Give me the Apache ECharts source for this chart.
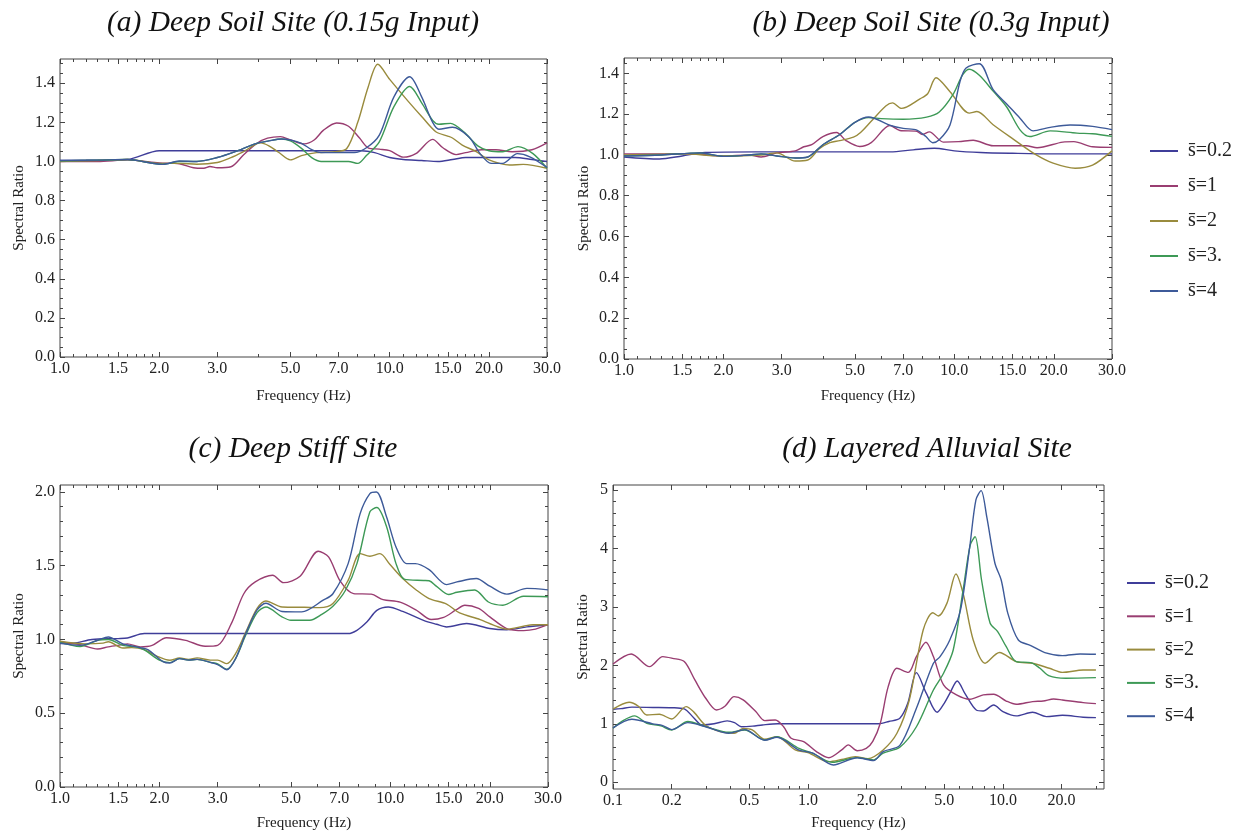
<!DOCTYPE html>
<html>
<head>
<meta charset="utf-8">
<script src="https://cdn.jsdelivr.net/npm/echarts@6/dist/echarts.min.js"></script>
<style>
html,body{margin:0;padding:0;background:#fff;}
#chart{width:1243px;height:833px;}
</style>
</head>
<body>
<div id="chart"></div>
<script>
// ---------- names / labels ----------
const seriesNames = ['s\u0304=0.2', 's\u0304=1', 's\u0304=2', 's\u0304=3.', 's\u0304=4'];
const panelTitles = ['(a) Deep Soil Site (0.15g Input)', '(b) Deep Soil Site (0.3g Input)', '(c) Deep Stiff Site', '(d) Layered Alluvial Site'];
const xTicksABC = [1, 1.5, 2, 3, 5, 7, 10, 15, 20, 30];
const xMinorABC = [1.1, 1.2, 1.3, 1.4, 1.6, 1.7, 1.8, 1.9, 4, 6, 8, 9, 11, 12, 13, 14, 16, 17, 18, 19];
const xTicksD = [0.1, 0.2, 0.5, 1, 2, 5, 10, 20];
const xMinorD = [0.3, 0.4, 0.6, 0.7, 0.8, 0.9, 3, 4, 6, 7, 8, 9, 30];
const yTicksAB = [0, 0.2, 0.4, 0.6, 0.8, 1.0, 1.2, 1.4];
const yTicksC = [0, 0.5, 1.0, 1.5, 2.0];
const yTicksD = [0, 1, 2, 3, 4, 5];

// ---------- data: [frequency (Hz), spectral ratio] ----------
// (a) Deep Soil Site (0.15g)
const A_s02 = [[1,1.005],[1.2,1.006],[1.4,1.008],[1.6,1.01],[2.0,1.055],[2.5,1.055],[3,1.055],[4,1.055],[5,1.055],[6,1.055],[7,1.055],[8.2,1.055],[9,1.045],[10,1.02],[11,1.01],[12.5,1.005],[14,1.0],[15.5,1.01],[17,1.02],[20,1.02],[24,1.02],[27,1.01],[30,1.0]];
const A_s1 = [[1,1.0],[1.3,1.0],[1.6,1.008],[2.0,0.993],[2.3,0.988],[2.54,0.968],[2.73,0.965],[2.85,0.974],[3.0,0.968],[3.3,0.973],[3.6,1.033],[3.96,1.093],[4.26,1.119],[4.66,1.127],[5.0,1.11],[5.5,1.09],[5.9,1.11],[6.3,1.16],[6.9,1.197],[7.5,1.18],[8.1,1.12],[8.6,1.07],[9.3,1.063],[10,1.055],[11,1.022],[12,1.04],[13.5,1.113],[14.5,1.07],[15.9,1.035],[17,1.045],[19,1.06],[21,1.06],[23.5,1.05],[27,1.06],[30,1.095]];
const A_s2 = [[1,1.0],[1.3,1.005],[1.6,1.01],[2.0,0.99],[2.3,0.99],[2.6,0.986],[3.0,0.995],[3.3,1.02],[3.6,1.05],[4.06,1.095],[4.3,1.08],[4.6,1.047],[5.0,1.008],[5.4,1.03],[6.0,1.045],[6.8,1.05],[7.4,1.065],[8.0,1.2],[8.6,1.38],[9.2,1.497],[10,1.42],[11.4,1.306],[12.5,1.23],[13.8,1.152],[15.0,1.13],[15.5,1.12],[16.6,1.084],[18.3,1.05],[20,1.008],[23.1,0.982],[25.4,0.985],[30,0.965]];
const A_s3 = [[1,1.003],[1.3,1.006],[1.6,1.01],[2.05,0.985],[2.3,1.0],[2.6,1.0],[3.0,1.02],[3.4,1.05],[3.9,1.09],[4.3,1.105],[4.7,1.115],[5.0,1.105],[5.4,1.067],[5.8,1.02],[6.2,1.0],[7.0,1.0],[7.5,1.0],[8.0,0.99],[8.5,1.03],[9.3,1.10],[10.3,1.28],[11.5,1.383],[12.5,1.3],[13.5,1.21],[14.1,1.19],[15.3,1.195],[16.8,1.15],[18.5,1.08],[20,1.055],[22,1.05],[24.5,1.076],[27.2,1.04],[30,0.965]];
const A_s4 = [[1,1.005],[1.3,1.007],[1.6,1.01],[2.05,0.985],[2.3,1.002],[2.6,1.0],[3.0,1.02],[3.4,1.05],[3.9,1.09],[4.3,1.105],[4.7,1.115],[5.0,1.11],[5.4,1.093],[5.8,1.06],[6.2,1.045],[7.0,1.045],[7.8,1.045],[8.5,1.07],[9.3,1.135],[10.3,1.33],[11.5,1.433],[12.5,1.33],[13.5,1.2],[14.1,1.165],[15.5,1.175],[17.4,1.125],[18.8,1.04],[20.3,0.99],[22,0.99],[24.4,1.04],[26.6,1.024],[30,0.97]];
// (b) Deep Soil Site (0.3g)
const B_s02 = [[1,0.99],[1.28,0.98],[1.5,0.995],[1.76,1.012],[2.5,1.015],[3.5,1.015],[4.5,1.015],[5.5,1.015],[6.4,1.015],[7.5,1.025],[8.7,1.033],[10,1.02],[12,1.012],[15,1.008],[20,1.005],[25,1.005],[30,1.005]];
const B_s1 = [[1,1.005],[1.3,1.005],[1.6,1.005],[2.0,0.995],[2.4,1.0],[2.6,0.99],[2.9,1.01],[3.3,1.02],[3.5,1.04],[3.7,1.05],[4.0,1.09],[4.4,1.11],[4.7,1.07],[5.17,1.041],[5.6,1.06],[6.38,1.144],[6.84,1.12],[7.7,1.116],[8.0,1.10],[8.4,1.113],[9.26,1.063],[10.3,1.065],[11.4,1.072],[13.1,1.045],[15,1.045],[16.5,1.045],[17.8,1.035],[21.3,1.063],[23,1.065],[26.2,1.04],[30,1.037]];
const B_s2 = [[1,1.0],[1.5,1.005],[2.0,0.995],[2.6,1.0],[2.9,1.01],[3.3,0.97],[3.6,0.975],[3.9,1.03],[4.2,1.06],[4.5,1.07],[4.95,1.087],[5.2,1.11],[5.6,1.165],[6.2,1.24],[6.5,1.255],[6.92,1.228],[7.87,1.275],[8.3,1.3],[8.8,1.378],[9.7,1.31],[11.1,1.205],[11.7,1.213],[13.1,1.148],[15,1.08],[17.7,1.0],[19.9,0.96],[23.2,0.935],[26.2,0.95],[30,1.02]];
const B_s3 = [[1,0.995],[1.3,1.0],[1.7,1.01],[2.0,0.993],[2.4,1.0],[2.6,1.005],[2.9,0.995],[3.3,0.985],[3.6,0.99],[4.0,1.05],[4.5,1.1],[5.0,1.16],[5.5,1.183],[6.0,1.178],[7.0,1.175],[8.24,1.185],[9.0,1.21],[9.9,1.295],[10.6,1.393],[11.1,1.42],[11.9,1.39],[13.1,1.313],[14.4,1.235],[15.8,1.123],[16.9,1.09],[19.5,1.118],[23.5,1.107],[26.2,1.104],[30,1.091]];
const B_s4 = [[1,0.995],[1.3,1.0],[1.7,1.01],[2.0,0.993],[2.4,1.0],[2.6,1.005],[2.9,0.995],[3.3,0.985],[3.6,0.99],[4.0,1.05],[4.5,1.1],[5.0,1.16],[5.5,1.186],[6.4,1.145],[7.0,1.13],[7.7,1.122],[8.2,1.09],[8.6,1.06],[9.0,1.074],[9.7,1.147],[10.4,1.36],[10.85,1.426],[11.9,1.447],[13.1,1.32],[14.4,1.25],[15.8,1.18],[17.3,1.118],[19.5,1.135],[22.4,1.147],[26.2,1.14],[30,1.124]];
// (c) Deep Stiff Site
const C_s02 = [[1,0.972],[1.1,0.975],[1.25,1.0],[1.5,1.006],[1.6,1.01],[1.8,1.04],[2.5,1.04],[3.5,1.04],[4.5,1.04],[5.5,1.04],[6.5,1.04],[7.45,1.04],[7.92,1.062],[8.5,1.12],[9.1,1.197],[9.85,1.22],[10.9,1.19],[12.6,1.13],[13.8,1.103],[14.8,1.085],[17,1.108],[20,1.074],[22.5,1.066],[25.9,1.085],[30,1.1]];
const C_s1 = [[1,0.983],[1.15,0.965],[1.3,0.935],[1.4,0.95],[1.55,0.965],[1.6,0.97],[1.75,0.95],[1.9,0.96],[2.1,1.012],[2.4,0.994],[2.75,0.954],[3.0,0.96],[3.3,1.107],[3.6,1.31],[3.9,1.39],[4.4,1.435],[4.75,1.385],[5.33,1.428],[6.05,1.598],[6.5,1.56],[7.05,1.395],[7.74,1.311],[8.75,1.307],[9.5,1.27],[10.7,1.253],[12.0,1.198],[13.3,1.135],[14.5,1.15],[15.8,1.2],[16.8,1.232],[18.5,1.21],[20,1.153],[22.5,1.074],[25.3,1.06],[27.5,1.07],[30,1.1]];
const C_s2 = [[1,0.988],[1.2,0.97],[1.35,0.975],[1.4,0.985],[1.55,0.942],[1.65,0.945],[1.8,0.931],[1.95,0.89],[2.15,0.859],[2.3,0.875],[2.45,0.865],[2.6,0.875],[2.85,0.86],[3.0,0.86],[3.2,0.836],[3.4,0.904],[3.65,1.05],[3.95,1.21],[4.2,1.261],[4.7,1.22],[5.5,1.218],[6.1,1.216],[6.7,1.244],[7.45,1.401],[8.1,1.582],[8.67,1.564],[9.3,1.582],[9.96,1.51],[10.9,1.413],[12.0,1.334],[13.1,1.277],[14.8,1.24],[16.2,1.18],[18.7,1.135],[20.9,1.09],[22.5,1.07],[25.3,1.09],[27,1.1],[30,1.1]];
const C_s3 = [[1,0.98],[1.15,0.952],[1.3,0.994],[1.4,1.0],[1.55,0.96],[1.7,0.95],[1.8,0.93],[2.0,0.86],[2.15,0.843],[2.3,0.87],[2.45,0.86],[2.6,0.865],[2.85,0.845],[3.0,0.835],[3.2,0.798],[3.4,0.87],[3.65,1.03],[3.95,1.182],[4.2,1.22],[4.7,1.153],[5.0,1.13],[5.7,1.13],[6.2,1.17],[6.7,1.225],[7.3,1.33],[7.92,1.514],[8.67,1.865],[9.1,1.894],[9.74,1.764],[10.4,1.514],[11.05,1.407],[12.6,1.40],[13.1,1.398],[13.8,1.36],[15,1.305],[15.9,1.32],[18.0,1.335],[19.8,1.254],[21.9,1.232],[25.3,1.293],[30,1.29]];
const C_s4 = [[1,0.975],[1.15,0.96],[1.3,0.995],[1.4,1.017],[1.55,0.97],[1.75,0.945],[1.85,0.93],[2.05,0.85],[2.15,0.84],[2.3,0.87],[2.45,0.86],[2.6,0.865],[2.85,0.845],[3.0,0.83],[3.2,0.795],[3.4,0.87],[3.65,1.04],[3.95,1.2],[4.2,1.245],[4.7,1.19],[5.39,1.187],[6.26,1.266],[6.7,1.31],[7.45,1.514],[8.1,1.853],[8.67,1.989],[9.07,2.0],[9.74,1.83],[10.4,1.627],[11.2,1.514],[11.9,1.514],[13.1,1.473],[14.8,1.372],[15.9,1.39],[18.2,1.413],[20.0,1.361],[22.5,1.307],[25.9,1.346],[30,1.336]];
// (d) Layered Alluvial Site
const D_s02 = [[0.1,1.25],[0.11,1.26],[0.125,1.285],[0.16,1.28],[0.2,1.275],[0.232,1.255],[0.26,1.1],[0.286,0.98],[0.33,1.0],[0.385,1.05],[0.42,1.02],[0.455,0.95],[0.52,0.96],[0.584,0.98],[0.7,1.0],[0.9,1.0],[1.2,1.0],[1.6,1.0],[2.0,1.0],[2.3,1.0],[2.6,1.04],[2.96,1.095],[3.25,1.35],[3.6,1.875],[4.05,1.52],[4.6,1.197],[5.0,1.35],[5.34,1.52],[5.83,1.733],[6.38,1.52],[7.3,1.237],[7.93,1.22],[8.96,1.323],[10,1.209],[11.7,1.135],[14.2,1.197],[16.7,1.123],[20.2,1.146],[25.8,1.112],[30,1.106]];
const D_s1 = [[0.1,2.024],[0.124,2.195],[0.154,1.978],[0.18,2.15],[0.202,2.12],[0.232,2.064],[0.263,1.75],[0.299,1.437],[0.339,1.237],[0.375,1.3],[0.418,1.465],[0.465,1.41],[0.54,1.21],[0.6,1.055],[0.68,1.066],[0.75,0.95],[0.82,0.753],[0.95,0.696],[1.105,0.525],[1.28,0.42],[1.49,0.553],[1.61,0.639],[1.79,0.54],[1.99,0.58],[2.15,0.7],[2.35,1.01],[2.58,1.636],[2.86,1.95],[3.27,1.88],[3.6,2.15],[4.03,2.395],[4.4,2.15],[4.96,1.665],[5.78,1.494],[6.76,1.42],[7.93,1.494],[8.96,1.505],[10.4,1.39],[11.7,1.334],[14.2,1.38],[16.1,1.39],[18.2,1.425],[20.2,1.408],[25.8,1.363],[30,1.346]];
const D_s2 = [[0.1,1.25],[0.121,1.368],[0.135,1.3],[0.149,1.152],[0.173,1.163],[0.2,1.083],[0.237,1.294],[0.26,1.2],[0.297,0.98],[0.354,0.867],[0.418,0.838],[0.465,0.92],[0.518,0.895],[0.6,0.735],[0.694,0.78],[0.86,0.553],[1.0,0.507],[1.28,0.353],[1.49,0.39],[1.75,0.439],[2.03,0.405],[2.43,0.553],[2.86,0.838],[3.31,1.408],[3.9,2.605],[4.37,2.9],[4.66,2.845],[5.16,3.06],[5.74,3.563],[6.25,3.23],[7.04,2.435],[8.1,2.035],[9.6,2.22],[11.7,2.064],[14.2,2.035],[17.3,1.95],[20.2,1.88],[25.8,1.92],[30,1.92]];
const D_s3 = [[0.1,0.924],[0.112,1.05],[0.129,1.135],[0.149,1.01],[0.176,0.964],[0.2,0.895],[0.242,1.04],[0.299,0.952],[0.393,0.855],[0.474,0.895],[0.6,0.724],[0.694,0.78],[0.9,0.58],[1.06,0.496],[1.33,0.342],[1.79,0.422],[2.17,0.382],[2.43,0.5],[2.96,0.6],[3.6,0.95],[4.4,1.579],[4.96,1.864],[5.56,2.263],[6.25,3.29],[6.8,4.06],[7.2,4.2],[7.77,3.46],[8.6,2.72],[9.4,2.577],[10.4,2.32],[11.7,2.064],[13.9,2.047],[15.5,1.95],[17.3,1.819],[21,1.779],[30,1.79]];
const D_s4 = [[0.1,0.93],[0.125,1.077],[0.16,1.0],[0.18,0.97],[0.2,0.9],[0.242,1.02],[0.299,0.95],[0.393,0.838],[0.474,0.9],[0.6,0.72],[0.694,0.77],[0.9,0.55],[1.06,0.5],[1.35,0.296],[1.79,0.42],[2.17,0.37],[2.43,0.525],[2.96,0.63],[3.6,1.266],[4.4,2.035],[4.76,2.149],[5.34,2.434],[6.06,2.948],[6.76,4.03],[7.27,4.83],[7.73,4.989],[8.26,4.544],[9.1,3.746],[9.8,3.46],[10.6,2.89],[12.0,2.434],[13.9,2.338],[16.4,2.218],[20.2,2.166],[24.9,2.195],[30,2.19]];

// ---------- style ----------
const COLORS = ['#3F3D99', '#993D71', '#998B3D', '#3D9956', '#3D5A99'];
const FONT = 'Liberation Serif';
const FRAME = '#444';

const panels = [
  { grid: {left: 60, top: 59, width: 487, height: 298}, xMin: 1, xMax: 30, yMin: 0, yMax: 1.524,
    xMajor: xTicksABC, xMinor: xMinorABC, yMajor: yTicksAB, yStep: 0.05, yDec: 1, xGap: 32, yGap: 33,
    data: [A_s02, A_s1, A_s2, A_s3, A_s4], title: [293, 23] },
  { grid: {left: 624, top: 58, width: 488, height: 301}, xMin: 1, xMax: 30, yMin: 0, yMax: 1.475,
    xMajor: xTicksABC, xMinor: xMinorABC, yMajor: yTicksAB, yStep: 0.05, yDec: 1, xGap: 30, yGap: 32,
    data: [B_s02, B_s1, B_s2, B_s3, B_s4], title: [931, 23] },
  { grid: {left: 60, top: 485, width: 488, height: 302}, xMin: 1, xMax: 30, yMin: 0, yMax: 2.047,
    xMajor: xTicksABC, xMinor: xMinorABC, yMajor: yTicksC, yStep: 0.1, yDec: 1, xGap: 29, yGap: 33,
    data: [C_s02, C_s1, C_s2, C_s3, C_s4], title: [293, 449] },
  { grid: {left: 613, top: 485, width: 491, height: 304}, xMin: 0.1, xMax: 33, yMin: -0.115, yMax: 5.085,
    xMajor: xTicksD, xMinor: xMinorD, yMajor: yTicksD, yStep: 0.2, yDec: 0, xGap: 27, yGap: 22,
    data: [D_s02, D_s1, D_s2, D_s3, D_s4], title: [927, 449] }
];

const lg = Math.log10;
const grids = [], xAxes = [], yAxes = [], series = [], graphics = [];

function yMinorTicks(p) {
  const out = [];
  const n = Math.round(p.yMax / p.yStep);
  for (let i = 1; i <= n; i++) {
    const v = +(i * p.yStep).toFixed(4);
    if (v > p.yMax) break;
    if (p.yMajor.some(m => Math.abs(m - v) < 1e-6)) continue;
    out.push(v);
  }
  return out;
}

panels.forEach((p, gi) => {
  grids.push(Object.assign({show: true, borderColor: FRAME, borderWidth: 1, backgroundColor: 'transparent'}, p.grid));
  const xmin = lg(p.xMin), xmax = lg(p.xMax);
  const xMajorL = p.xMajor.map(lg), xMinorL = p.xMinor.map(lg);
  const yMinor = yMinorTicks(p);
  const baseX = {type: 'value', gridIndex: gi, min: xmin, max: xmax, splitLine: {show: false}, axisLine: {show: false, onZero: false}};
  const baseY = {type: 'value', gridIndex: gi, min: p.yMin, max: p.yMax, splitLine: {show: false}, axisLine: {show: false, onZero: false}};
  ['bottom', 'top'].forEach(pos => {
    xAxes.push(Object.assign({}, baseX, {
      position: pos,
      name: pos === 'bottom' ? 'Frequency (Hz)' : '',
      nameLocation: 'middle', nameGap: p.xGap,
      nameTextStyle: {fontFamily: FONT, fontSize: 15, color: '#222'},
      axisTick: {show: true, inside: true, length: 5, customValues: xMajorL, lineStyle: {color: FRAME}},
      axisLabel: {show: pos === 'bottom', customValues: xMajorL, margin: 4, fontFamily: FONT, fontSize: 16, color: '#222',
        formatter: v => Math.pow(10, v).toFixed(1)}
    }));
    xAxes.push(Object.assign({}, baseX, {
      position: pos,
      axisTick: {show: true, inside: true, length: 3, customValues: xMinorL, lineStyle: {color: FRAME}},
      axisLabel: {show: false}
    }));
  });
  ['left', 'right'].forEach(pos => {
    yAxes.push(Object.assign({}, baseY, {
      position: pos,
      name: pos === 'left' ? 'Spectral Ratio' : '',
      nameLocation: 'middle', nameGap: p.yGap, nameRotate: 90,
      nameTextStyle: {fontFamily: FONT, fontSize: 15, color: '#222'},
      axisTick: {show: true, inside: true, length: 5, customValues: p.yMajor, lineStyle: {color: FRAME}},
      axisLabel: {show: pos === 'left', customValues: p.yMajor, margin: 5, fontFamily: FONT, fontSize: 16, color: '#222',
        formatter: v => v.toFixed(p.yDec)}
    }));
    yAxes.push(Object.assign({}, baseY, {
      position: pos,
      axisTick: {show: true, inside: true, length: 3, customValues: yMinor, lineStyle: {color: FRAME}},
      axisLabel: {show: false}
    }));
  });
  p.data.forEach((d, si) => {
    series.push({
      type: 'line', name: seriesNames[si], xAxisIndex: gi * 4, yAxisIndex: gi * 4,
      data: d.map(([f, r]) => [lg(f), r]),
      smooth: 0.3, showSymbol: false, symbol: 'none',
      lineStyle: {width: 1.4, color: COLORS[si]}, itemStyle: {color: COLORS[si]},
      z: 3 + si
    });
  });
  graphics.push({
    type: 'text', x: p.title[0], y: p.title[1],
    style: {text: panelTitles[gi], font: 'italic 29.5px "Liberation Serif"', fill: '#111', textAlign: 'center', textVerticalAlign: 'middle'}
  });
});

const legendBase = {
  orient: 'vertical', data: seriesNames, icon: 'rect', itemWidth: 28, itemHeight: 2, selectedMode: false, padding: 0,
  textStyle: {fontFamily: FONT, fontSize: 20, color: '#222', padding: [0, 0, 0, 5]}
};

const chart = echarts.init(document.getElementById('chart'), null, {renderer: 'canvas'});
chart.setOption({
  backgroundColor: '#fff',
  animation: false,
  color: COLORS,
  grid: grids,
  xAxis: xAxes,
  yAxis: yAxes,
  series: series,
  legend: [
    Object.assign({}, legendBase, {left: 1150, top: 141, itemGap: 15}),
    Object.assign({}, legendBase, {left: 1127, top: 573, itemGap: 13.3})
  ],
  graphic: graphics
});
</script>
</body>
</html>
